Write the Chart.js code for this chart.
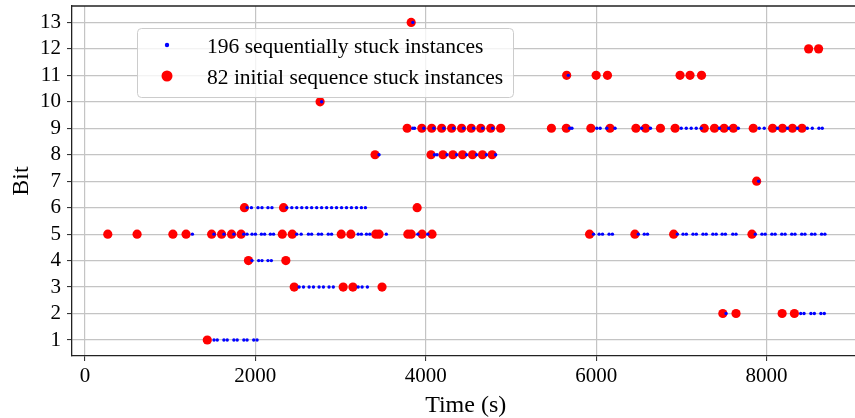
<!DOCTYPE html>
<html>
<head>
<meta charset="utf-8">
<script src="https://cdn.jsdelivr.net/npm/chart.js@4.4.1/dist/chart.umd.min.js"></script>
<style>
  html, body { margin: 0; padding: 0; background: #fff; overflow: hidden; }
  #wrap { width: 855px; height: 418px; overflow: hidden; }
</style>
</head>
<body>
<div id="wrap"><canvas id="stuckChart" width="864" height="418"></canvas></div>
<script>
// legend texts
const seriesLabels = ['196 sequentially stuck instances', '82 initial sequence stuck instances'];

// tick values
const xTicks = [0, 2000, 4000, 6000, 8000];
const yTicks = [1, 2, 3, 4, 5, 6, 7, 8, 9, 10, 11, 12, 13];

// times (s) of the sequentially stuck instances, one list per bit (bit 1 first)
const seqTimesByBit = [
  [1515, 1553, 1631, 1670, 1748, 1787, 1865, 1903, 1981, 2020],
  [7525, 8401, 8440, 8521, 8561, 8638, 8678],
  [2514, 2565, 2631, 2682, 2748, 2799, 2865, 2915, 3207, 3253, 3315],
  [1961, 2039, 2078, 2148, 2188],
  [1261, 1514, 1631, 1748, 1864, 1903, 1961, 2001, 2071, 2109, 2176, 2214, 2486, 2538, 2623, 2661,
   2740, 2778, 2856, 2895, 3207, 3245, 3304, 3343, 3537, 3907, 4024, 5970, 6035, 6075, 6152, 6191,
   6495, 6565, 6603, 6954, 7020, 7059, 7137, 7176, 7254, 7292, 7370, 7409, 7479, 7517, 7604, 7642,
   7868, 7946, 7984, 8063, 8101, 8179, 8218, 8296, 8334, 8413, 8451, 8529, 8568, 8646, 8685],
  [1903, 1954, 2031, 2078, 2148, 2195, 2370, 2428, 2486, 2545, 2603, 2661, 2720, 2778, 2837, 2895,
   2953, 3012, 3070, 3128, 3187, 3245, 3292],
  [7907],
  [3452, 4102, 4132, 4249, 4362, 4479, 4596, 4712, 4821],
  [3849, 3869, 3977, 4094, 4211, 4327, 4444, 4561, 4669, 4786, 5689, 5716, 6008, 6047, 6125, 6222,
   6533, 6638, 6999, 7058, 7116, 7175, 7233, 7447, 7557, 7669, 7914, 7973, 8129, 8246, 8363, 8479,
   8537, 8615, 8654],
  [2778],
  [5673],
  [],
  [3849]
];

// times (s) of the initial sequence stuck instances, one list per bit (bit 1 first)
const initTimesByBit = [
  [1436],
  [7487, 7642, 8183, 8327],
  [2456, 3031, 3145, 3487],
  [1919, 2358],
  [268, 612, 1032, 1187, 1487, 1604, 1721, 1833, 2316, 2433, 3008, 3121, 3413, 3452, 3790, 3829,
   3957, 4074, 5923, 6455, 6910, 7829],
  [1872, 2331, 3899],
  [7884],
  [3405, 4062, 4202, 4319, 4432, 4549, 4666, 4779],
  [3782, 3954, 4070, 4187, 4304, 4421, 4534, 4646, 4763, 4879, 5475, 5650, 5938, 6163, 6467, 6580,
   6755, 6927, 7269, 7389, 7502, 7611, 7844, 8071, 8187, 8304, 8416],
  [2760],
  [5654, 6000, 6133, 6985, 7102, 7237],
  [8494, 8611],
  [3829]
];

const toPoints = rows => rows.flatMap((times, i) => times.map(t => ({ x: t, y: i + 1 })));

const SERIF = '"Liberation Serif", "Times New Roman", serif';
Chart.defaults.font.family = SERIF;
Chart.defaults.color = '#000';

// top/right spines (matplotlib style box)
const framePlugin = {
  id: 'frame',
  beforeDatasetsDraw(chart) {
    const { ctx, chartArea: a } = chart;
    ctx.save();
    ctx.strokeStyle = '#222';
    ctx.lineWidth = 1.3;
    ctx.beginPath();
    ctx.moveTo(a.left, a.top);
    ctx.lineTo(a.right, a.top);
    ctx.lineTo(a.right, a.bottom);
    ctx.stroke();
    ctx.restore();
  }
};

// legend box in the upper left of the plot
const boxLegend = {
  id: 'boxLegend',
  afterDraw(chart) {
    const c = chart.ctx;
    c.save();
    c.beginPath();
    c.roundRect(137.5, 28.5, 376, 69, 4);
    c.fillStyle = 'rgba(255,255,255,0.8)';
    c.fill();
    c.strokeStyle = '#cccccc';
    c.lineWidth = 1;
    c.stroke();
    const rows = [45, 76];
    const radii = [2.2, 5.5];
    chart.data.datasets.forEach((ds, i) => {
      c.beginPath();
      c.arc(167, rows[i], radii[i], 0, Math.PI * 2);
      c.fillStyle = ds.backgroundColor;
      c.fill();
      c.fillStyle = '#000';
      c.font = '21.5px ' + SERIF;
      c.textBaseline = 'alphabetic';
      c.fillText(ds.label, 207, rows[i] + 8);
    });
    c.restore();
  }
};

const ctx = document.getElementById('stuckChart').getContext('2d');
new Chart(ctx, {
  type: 'scatter',
  data: {
    datasets: [
      {
        label: seriesLabels[0],
        data: toPoints(seqTimesByBit),
        backgroundColor: '#0000ff',
        borderWidth: 0,
        pointRadius: 1.7,
        pointHoverRadius: 1.7
      },
      {
        label: seriesLabels[1],
        data: toPoints(initTimesByBit),
        backgroundColor: '#ff0000',
        borderWidth: 0,
        pointRadius: 4.6,
        pointHoverRadius: 4.6
      }
    ]
  },
  options: {
    responsive: false,
    animation: false,
    layout: { padding: { top: 6, right: 0, bottom: 0, left: 0 } },
    plugins: {
      legend: { display: false },
      tooltip: { enabled: false }
    },
    scales: {
      x: {
        type: 'linear',
        min: -152,
        max: 9090,
        afterBuildTicks: s => { s.ticks = xTicks.map(v => ({ value: v })); },
        afterFit: s => { s.height = 62; s.paddingLeft = 0; s.paddingRight = 0; },
        grid: { color: '#c4c4c4', lineWidth: 1.2, tickColor: '#222', tickLength: 5, tickWidth: 1 },
        border: { color: '#222', width: 1.3 },
        ticks: { font: { size: 21 }, padding: 3, color: '#000', maxRotation: 0, autoSkip: false, callback: v => String(v) },
        title: { display: true, text: 'Time (s)', font: { size: 24, lineHeight: 1 }, padding: 0, color: '#000' }
      },
      y: {
        type: 'linear',
        min: 0.395,
        max: 13.62,
        afterBuildTicks: s => { s.ticks = yTicks.map(v => ({ value: v })); },
        afterFit: s => { s.width = 72; s.paddingTop = 0; s.paddingBottom = 0; },
        grid: { color: '#c4c4c4', lineWidth: 1.2, tickColor: '#222', tickLength: 5, tickWidth: 1 },
        border: { color: '#222', width: 1.3 },
        ticks: { font: { size: 21 }, padding: 6, color: '#000', autoSkip: false, callback: v => String(v) },
        title: { display: true, text: 'Bit', font: { size: 24, lineHeight: 1.2 }, padding: { top: 7, bottom: 0 }, color: '#000' }
      }
    }
  },
  plugins: [framePlugin, boxLegend]
});
</script>
</body>
</html>
